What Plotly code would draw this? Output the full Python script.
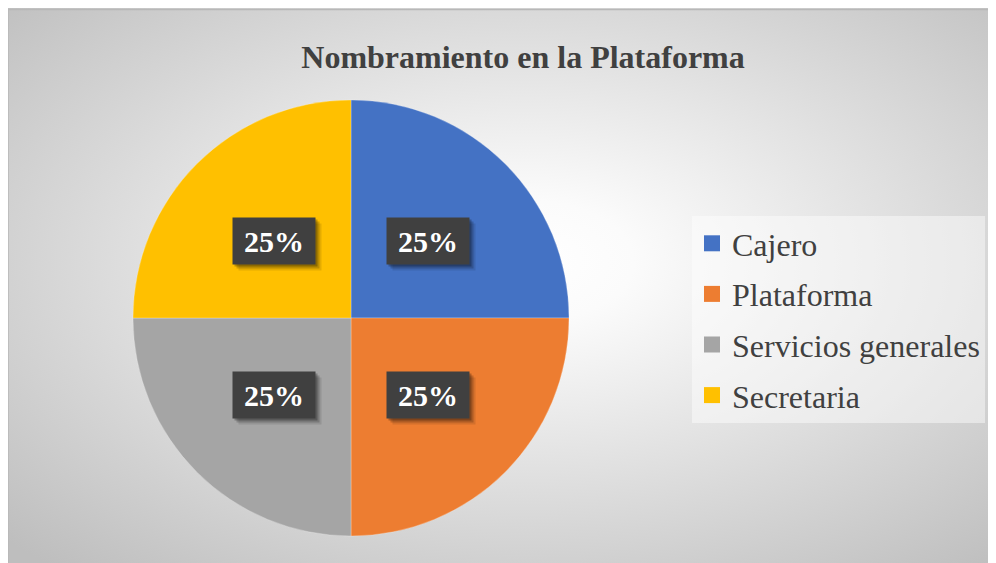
import base64
import math
import plotly.graph_objects as go

# Data
categories = ["Cajero", "Plataforma", "Servicios generales", "Secretaria"]
values = [25, 25, 25, 25]
colors = ["#4472C4", "#ED7D31", "#A5A5A5", "#FFC000"]
title = "Nombramiento en la Plataforma"

W, H = 996, 563
FONT = "Liberation Serif"
# the page body adds an 8px margin, so screen positions are shifted
OX, OY = 8, 8

# pie geometry (figure pixels)
cx, cy, r = 351 - OX, 318 - OY, 218

# radial gradient background, as an svg image
svg = (
    '<svg xmlns="http://www.w3.org/2000/svg" width="996" height="563" preserveAspectRatio="none">'
    '<defs><radialGradient id="g" cx="0.52" cy="0.45" r="0.72">'
    '<stop offset="0" stop-color="#ffffff"/>'
    '<stop offset="0.15" stop-color="#fbfbfb"/>'
    '<stop offset="1" stop-color="#bebebe"/>'
    '</radialGradient></defs>'
    '<rect x="0" y="0" width="996" height="563" fill="url(#g)"/></svg>'
)
bg_src = "data:image/svg+xml;base64," + base64.b64encode(svg.encode()).decode()

fig = go.Figure()

fig.add_trace(go.Pie(
    labels=categories,
    values=values,
    marker=dict(colors=colors, line=dict(color="rgba(255,255,255,0.25)", width=1)),
    sort=False,
    direction="clockwise",
    rotation=0,
    textinfo="none",
    showlegend=False,
    domain=dict(x=[(cx - r) / W, (cx + r) / W], y=[1 - (cy + r) / H, 1 - (cy - r) / H]),
))

# legend entries as dummy traces so row spacing can be set
for name, col in zip(categories, colors):
    fig.add_trace(go.Scatter(
        x=[None], y=[None], mode="markers", name=name, legendgroup=name,
        marker=dict(symbol="square", size=16, color=col),
    ))

# data labels
total = sum(values)
cum = 0
annotations = []
for v in values:
    theta = 2 * math.pi * (cum + v / 2) / total
    cum += v
    px = cx + 0.5 * r * math.sin(theta)
    py = cy - 0.5 * r * math.cos(theta)
    pct = f"{round(100 * v / total)}%"
    common = dict(x=px / W, y=1 - py / H, xref="paper", yref="paper",
                  xanchor="center", yanchor="middle", showarrow=False,
                  width=82, height=46, borderpad=0)
    for d, alpha in [(6, 0.10), (4, 0.18), (2, 0.25)]:
        annotations.append(dict(common, text="", bgcolor=f"rgba(0,0,0,{alpha})",
                                xshift=d, yshift=-d))
    annotations.append(dict(common, text="<b>" + pct + "</b>", bgcolor="#404040",
                            font=dict(family=FONT, size=30, color="white")))

fig.update_layout(
    width=W, height=H,
    margin=dict(l=0, r=0, t=0, b=0),
    paper_bgcolor="white",
    plot_bgcolor="rgba(0,0,0,0)",
    xaxis=dict(visible=False),
    yaxis=dict(visible=False),
    title=dict(
        text="<b>" + title + "</b>", x=(523 - OX) / W, y=1 - (57 - OY) / H,
        xref="container", yref="container", xanchor="center", yanchor="middle",
        font=dict(family=FONT, size=32, color="#404040"),
    ),
    legend=dict(
        x=(692 - OX) / W, y=1 - (216 - OY) / H, xanchor="left", yanchor="top",
        bgcolor="rgba(255,255,255,0.45)", tracegroupgap=6,
        font=dict(family=FONT, size=32, color="#404040"),
    ),
    images=[dict(
        source=bg_src, xref="paper", yref="paper", x=0, y=1,
        sizex=1, sizey=1, xanchor="left", yanchor="top",
        sizing="stretch", layer="below",
    )],
    shapes=[dict(
        type="rect", xref="paper", yref="paper", x0=0, x1=1.01, y0=-0.01, y1=1 - 1.5 / H,
        line=dict(color="#b8b8b8", width=1.5), layer="below",
    )],
    annotations=annotations,
)

fig.write_html("out.html")
